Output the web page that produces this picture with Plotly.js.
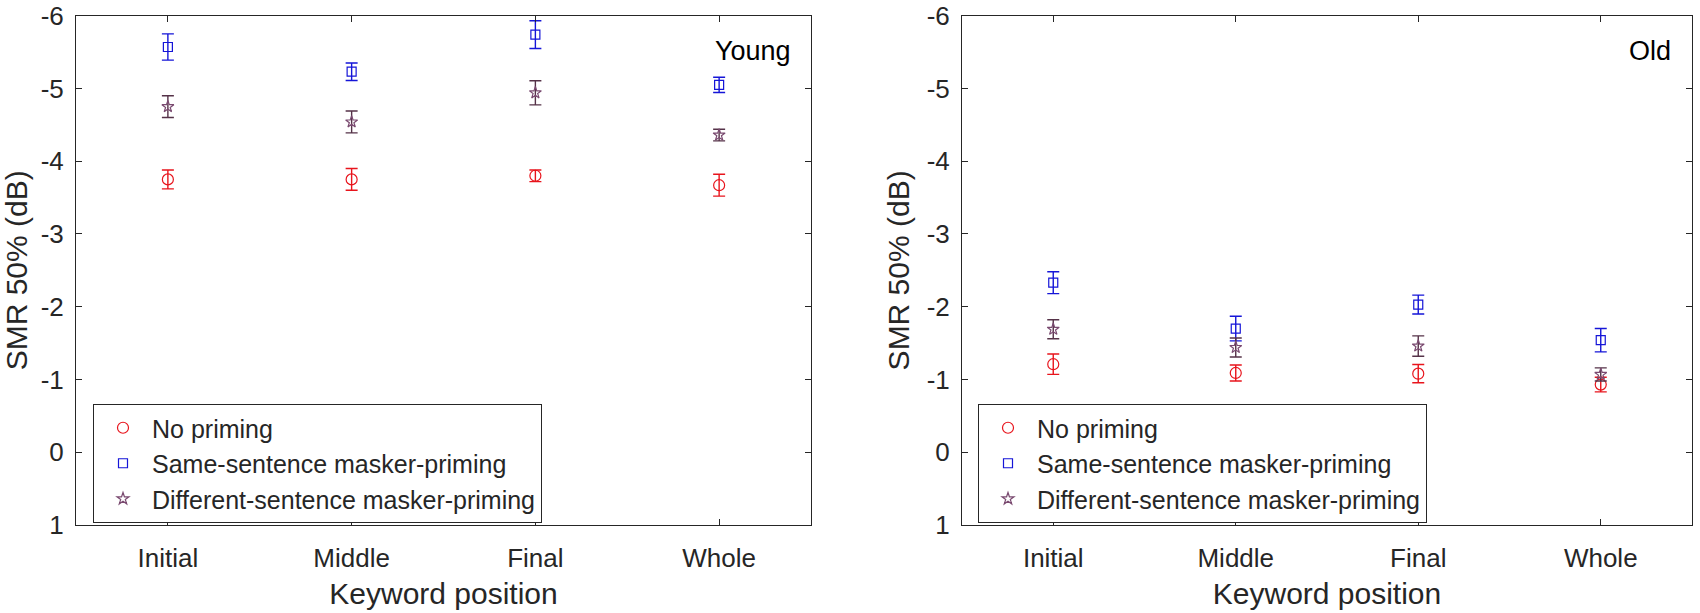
<!DOCTYPE html>
<html>
<head>
<meta charset="utf-8">
<script src="https://cdn.plot.ly/plotly-3.0.1.min.js"></script>
<style>html,body{margin:0;padding:0;background:#fff;}#chart{width:1700px;height:613px;}</style>
</head>
<body>
<div id="chart"></div>
<script>
// ---- data ----
const categories = ['Initial', 'Middle', 'Final', 'Whole'];
const seriesNames = ['No priming', 'Same-sentence masker-priming', 'Different-sentence masker-priming'];

const youngNo = [-3.75, -3.75, -3.80, -3.67];
const youngNoErr = [0.13, 0.15, 0.08, 0.15];
const youngSame = [-5.57, -5.23, -5.74, -5.05];
const youngSameErr = [0.18, 0.12, 0.19, 0.105];
const youngDiff = [-4.75, -4.54, -4.94, -4.36];
const youngDiffErr = [0.15, 0.15, 0.165, 0.08];

const oldNo = [-1.21, -1.09, -1.08, -0.93];
const oldNoErr = [0.14, 0.11, 0.125, 0.10];
const oldSame = [-2.33, -1.70, -2.03, -1.54];
const oldSameErr = [0.15, 0.17, 0.13, 0.16];
const oldDiff = [-1.69, -1.44, -1.46, -1.07];
const oldDiffErr = [0.13, 0.13, 0.14, 0.09];

const yTickVals = [-6, -5, -4, -3, -2, -1, 0, 1];
const yTickText = ['-6', '-5', '-4', '-3', '-2', '-1', '0', '1'];

// ---- styles ----
const FONT = 'Liberation Sans, Arial, Helvetica, sans-serif';
const INK = '#262626';
const styles = [
  {line: '#e8141c', marker: '#e8141c', symbol: 'circle-open', size: 11},
  {line: '#1515d8', marker: '#1515d8', symbol: 'square-open', size: 9},
  {line: '#553248', marker: '#7a4a70', symbol: 'star-open', size: 9}
];

function mk(y, err, i, xa, ya, leg) {
  const s = styles[i];
  return {
    type: 'scatter', mode: 'markers',
    x: categories, y: y,
    name: seriesNames[i],
    xaxis: xa, yaxis: ya, legend: leg,
    marker: {symbol: s.symbol, size: s.size, color: s.marker, line: {color: s.marker, width: 1.2}},
    error_y: {type: 'data', array: err, visible: true, color: s.line, thickness: 1.4, width: 6}
  };
}

const traces = [
  mk(youngNo, youngNoErr, 0, 'x', 'y', 'legend'),
  mk(youngSame, youngSameErr, 1, 'x', 'y', 'legend'),
  mk(youngDiff, youngDiffErr, 2, 'x', 'y', 'legend'),
  mk(oldNo, oldNoErr, 0, 'x2', 'y2', 'legend2'),
  mk(oldSame, oldSameErr, 1, 'x2', 'y2', 'legend2'),
  mk(oldDiff, oldDiffErr, 2, 'x2', 'y2', 'legend2')
];

const W = 1700, H = 613;
const yTop = 1 - 15.7 / H, yBot = 1 - 525 / H;

function xax(d0, d1, anchor) {
  return {
    domain: [d0 / W, d1 / W], anchor: anchor,
    type: 'category', range: [-0.5, 3.5],
    showline: true, mirror: 'ticks', linecolor: INK, linewidth: 1,
    ticks: 'inside', ticklen: 6, tickcolor: INK, tickwidth: 1,
    showgrid: false, zeroline: false,
    tickfont: {family: FONT, size: 26, color: INK},
    ticklabelstandoff: 10,
    title: {text: 'Keyword position', font: {family: FONT, size: 30, color: INK}, standoff: 10},
    automargin: false, fixedrange: true
  };
}
function yax(anchor) {
  return {
    domain: [yBot, yTop], anchor: anchor,
    range: [1, -6],
    tickmode: 'array', tickvals: yTickVals, ticktext: yTickText,
    showline: true, mirror: 'ticks', linecolor: INK, linewidth: 1,
    ticks: 'inside', ticklen: 6, tickcolor: INK, tickwidth: 1,
    showgrid: false, zeroline: false,
    tickfont: {family: FONT, size: 26, color: INK},
    ticklabelstandoff: 6,
    title: {text: 'SMR 50% (dB)', font: {family: FONT, size: 30, color: INK}, standoff: 8},
    automargin: false, fixedrange: true
  };
}

const legendBase = {
  xanchor: 'left', yanchor: 'top',
  bgcolor: '#ffffff', bordercolor: INK, borderwidth: 1,
  font: {family: FONT, size: 25, color: INK},
  itemwidth: 48,
  tracegroupgap: 0, itemclick: false, itemdoubleclick: false
};

const layout = {
  width: W, height: H,
  margin: {l: 0, r: 0, t: 0, b: 0},
  paper_bgcolor: '#ffffff', plot_bgcolor: '#ffffff',
  showlegend: true,
  xaxis: xax(76, 811, 'y'),
  yaxis: yax('x'),
  xaxis2: xax(962, 1692, 'y2'),
  yaxis2: yax('x2'),
  legend: Object.assign({}, legendBase, {x: 93 / W, y: 1 - 404 / H}),
  legend2: Object.assign({}, legendBase, {x: 978 / W, y: 1 - 404 / H}),
  annotations: [
    {text: 'Young', xref: 'paper', yref: 'paper', x: 793 / W, y: 1 - 51 / H, xanchor: 'right', yanchor: 'middle', showarrow: false, font: {family: FONT, size: 27, color: '#000'}},
    {text: 'Old', xref: 'paper', yref: 'paper', x: 1673 / W, y: 1 - 51 / H, xanchor: 'right', yanchor: 'middle', showarrow: false, font: {family: FONT, size: 27, color: '#000'}}
  ]
};

Plotly.newPlot('chart', traces, layout, {staticPlot: true, displayModeBar: false});
</script>
</body>
</html>
